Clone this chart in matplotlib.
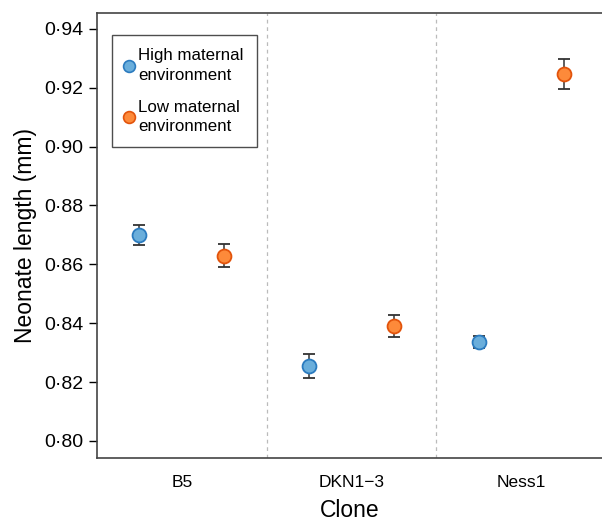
import matplotlib.pyplot as plt
from matplotlib.lines import Line2D
import numpy as np

plt.rcParams['font.family'] = ['Liberation Sans', 'DejaVu Sans']

clones = ['B5', 'DKN1\u22123', 'Ness1']
high_mean = [0.8700, 0.8255, 0.8336]
high_err = [0.0035, 0.0041, 0.0021]
low_mean = [0.8630, 0.8391, 0.9247]
low_err = [0.0040, 0.0037, 0.0052]
y_ticks = [0.80, 0.82, 0.84, 0.86, 0.88, 0.90, 0.92, 0.94]

blue_fill, blue_edge = '#6aaedb', '#2b7bbf'
orange_fill, orange_edge = '#fd8a3a', '#e2530b'

fig = plt.figure(figsize=(6.02, 5.23), dpi=100)
ax = fig.add_axes([0.161, 0.1243, 0.839, 0.8508])

x = np.arange(len(clones))
ax.errorbar(x - 0.25, high_mean, yerr=high_err, fmt='o', color=blue_fill,
            mec=blue_edge, mew=1.3, ms=10, ecolor='#333333', elinewidth=1.1,
            capsize=4, capthick=1.1, zorder=3)
ax.errorbar(x + 0.25, low_mean, yerr=low_err, fmt='o', color=orange_fill,
            mec=orange_edge, mew=1.3, ms=10, ecolor='#333333', elinewidth=1.1,
            capsize=4, capthick=1.1, zorder=3)

for xv in [0.5, 1.5]:
    ax.axvline(xv, color='#bbbbbb', linestyle=(0, (3, 3)), linewidth=0.9, zorder=1)

ax.set_xlim(-0.5, 2.476)
ax.set_ylim(0.7942, 0.9454)
ax.set_yticks(y_ticks)
ax.set_yticklabels([f'{v:.2f}'.replace('.', '\u00b7') for v in y_ticks], fontsize=14)
ax.set_xticks(x)
ax.set_xticklabels(clones, fontsize=12.5)
ax.tick_params(axis='x', length=0, pad=12)
ax.tick_params(axis='y', length=6, width=1, pad=4)
ax.spines['right'].set_visible(False)
for s in ['top', 'left', 'bottom']:
    ax.spines[s].set_color('#444444')
    ax.spines[s].set_linewidth(1.2)

ax.set_xlabel('Clone', fontsize=16.5, labelpad=7)
ax.set_ylabel('Neonate length (mm)', fontsize=16.5, labelpad=5)

handles = [
    Line2D([], [], marker='o', linestyle='none', ms=8.5, mfc=blue_fill, mec=blue_edge, mew=1.2),
    Line2D([], [], marker='o', linestyle='none', ms=8.5, mfc=orange_fill, mec=orange_edge, mew=1.2),
]
leg = ax.legend(handles, ['High maternal\nenvironment', 'Low maternal\nenvironment'],
                loc='upper left', bbox_to_anchor=(0.029, 0.951), fontsize=12.2,
                frameon=True, fancybox=False, edgecolor='#222222', handletextpad=0.35,
                borderpad=0.8, labelspacing=1.0, handlelength=0.4, borderaxespad=0)
leg.get_frame().set_linewidth(1.0)
for t in leg.get_texts():
    t.set_linespacing(1.35)

plt.savefig('out.png', dpi=100)
